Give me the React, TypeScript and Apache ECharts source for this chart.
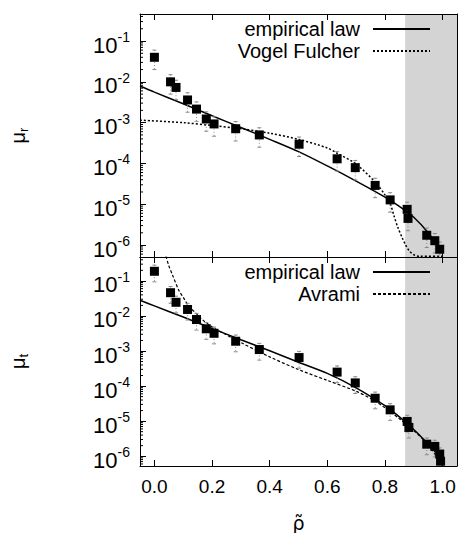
import React, { useEffect, useRef } from "react";
import * as echarts from "echarts";

// ---- measured points: relaxation (top) ----
const rhoR = [0.0, 0.056, 0.075, 0.115, 0.146, 0.18, 0.207, 0.282, 0.364, 0.502, 0.634, 0.697, 0.766, 0.818, 0.877, 0.88, 0.945, 0.973, 0.99];
const muR = [4.0e-2, 1.0e-2, 7.3e-3, 3.6e-3, 2.15e-3, 1.23e-3, 9.3e-4, 7.1e-4, 5.0e-4, 2.96e-4, 1.3e-4, 7.9e-5, 2.9e-5, 1.28e-5, 7.5e-6, 4.5e-6, 1.74e-6, 1.28e-6, 7.9e-7];

// ---- measured points: translation (bottom) ----
const rhoT = [0.0, 0.056, 0.075, 0.115, 0.146, 0.18, 0.207, 0.282, 0.364, 0.502, 0.634, 0.697, 0.766, 0.818, 0.877, 0.883, 0.945, 0.973, 0.99, 0.993];
const muT = [0.188, 0.046, 0.0245, 0.0153, 7.9e-3, 4.3e-3, 3.2e-3, 1.9e-3, 1.1e-3, 6.5e-4, 2.5e-4, 1.23e-4, 4.5e-5, 2.1e-5, 9.8e-6, 6.6e-6, 2.2e-6, 1.9e-6, 1.15e-6, 7.2e-7];

// relative error of the points (±)
const relErr = 0.5;

// ---- fitted curves ----
const empRhoR = [-0.05, 0.0, 0.1, 0.2, 0.3, 0.4, 0.5, 0.6, 0.7, 0.8, 0.85, 0.9, 0.95, 1.0];
const empiricalR = [7.9e-3, 5.6e-3, 2.9e-3, 1.48e-3, 7.6e-4, 3.9e-4, 1.95e-4, 8.7e-5, 3.7e-5, 1.5e-5, 8.9e-6, 4.8e-6, 2.0e-6, 6.6e-7];

const vfRho = [-0.05, 0.1, 0.2, 0.3, 0.4, 0.5, 0.6, 0.634, 0.697, 0.766, 0.8, 0.82, 0.83, 0.844, 0.86, 0.872, 0.885, 0.9, 0.92, 1.0];
const vogelFulcher = [1.15e-3, 1.0e-3, 8.5e-4, 7.1e-4, 5.5e-4, 3.9e-4, 2.4e-4, 1.78e-4, 1.0e-4, 3.5e-5, 1.7e-5, 9.5e-6, 5.6e-6, 2.8e-6, 1.5e-6, 1.0e-6, 7.1e-7, 5.8e-7, 5.3e-7, 5.3e-7];

const empRhoT = [-0.05, 0.0, 0.1, 0.2, 0.3, 0.4, 0.5, 0.6, 0.7, 0.8, 0.85, 0.9, 0.95, 0.98, 1.0];
const empiricalT = [2.8e-2, 1.94e-2, 9.3e-3, 4.4e-3, 2.1e-3, 1.02e-3, 4.8e-4, 2.3e-4, 8.9e-5, 2.75e-5, 1.32e-5, 5.75e-6, 2.2e-6, 1.15e-6, 5.8e-7];

const avRho = [0.035, 0.05, 0.062, 0.085, 0.1, 0.12, 0.14, 0.166, 0.2, 0.25, 0.3, 0.4, 0.5, 0.6, 0.7, 0.76, 0.8, 0.85, 0.9, 0.95, 1.0];
const avrami = [0.7, 0.27, 0.153, 0.053, 0.034, 0.0185, 0.0129, 7.9e-3, 4.9e-3, 2.9e-3, 1.74e-3, 6.8e-4, 2.95e-4, 1.45e-4, 7.1e-5, 4.0e-5, 2.4e-5, 1.17e-5, 5.4e-6, 2.1e-6, 5.5e-7];

// shaded region start
const glassyFrom = 0.87;

// axis ranges
const xMin = -0.05;
const xMax = 1.05;
const yMinR = 5.1e-7;
const yMaxR = 0.46;
const yMinT = 5.25e-7;
const yMaxT = 0.48;
const decades = [-7, -6, -5, -4, -3, -2, -1];
const minorMult = [2, 3, 4, 5, 6, 7, 8, 9];

const FONT = "'Liberation Sans', Arial, Helvetica, sans-serif";

const zip = (xs: number[], ys: number[]) => xs.map((x, i) => [x, ys[i]]);

const powLabel = (v: number) => {
  const e = Math.log10(v);
  const r = Math.round(e);
  if (Math.abs(e - r) > 0.01) return "";
  return `{b|10}{s|${r}}`;
};

const xLabel = (v: number) => {
  const k = v / 0.2;
  if (Math.abs(k - Math.round(k)) > 1e-6) return "";
  return (Math.round(k) * 0.2).toFixed(1);
};

const errorBarItem = (params: any, api: any) => {
  const x = api.value(0);
  const lo = api.value(1);
  const hi = api.value(2);
  const a = api.coord([x, hi]);
  const b = api.coord([x, lo]);
  const st = { stroke: "#8a8a8a", lineWidth: 1 };
  return {
    type: "group",
    children: [
      { type: "line", shape: { x1: a[0], y1: a[1], x2: b[0], y2: b[1] }, style: { ...st, lineDash: [1, 2] } },
      { type: "line", shape: { x1: a[0] - 2, y1: a[1], x2: a[0] + 2, y2: a[1] }, style: st },
      { type: "line", shape: { x1: b[0] - 2, y1: b[1], x2: b[0] + 2, y2: b[1] }, style: st },
    ],
  };
};

const minorTickItem = (params: any, api: any) => {
  const p = api.coord([api.value(0), api.value(1)]);
  return {
    type: "line",
    shape: { x1: p[0], y1: p[1], x2: p[0] + 3, y2: p[1] },
    style: { stroke: "#000", lineWidth: 1 },
  };
};

function buildOption() {
  const minorData = (lo: number, hi: number) => {
    const out: number[][] = [];
    decades.forEach((d) =>
      minorMult.forEach((m) => {
        const v = m * Math.pow(10, d);
        if (v > lo && v < hi) out.push([xMin, v]);
      })
    );
    return out;
  };
  const errData = (xs: number[], ys: number[]) => xs.map((x, i) => [x, ys[i] * (1 - relErr), ys[i] * (1 + relErr)]);

  const xAxis = (gridIndex: number, position: string, labels: boolean, name?: string) => ({
    type: "value",
    gridIndex,
    position,
    min: xMin,
    max: xMax,
    splitNumber: 5,
    z: 10,
    axisLine: { show: true, onZero: false, lineStyle: { color: "#000", width: 1 } },
    axisTick: { show: true, inside: true, length: 6, lineStyle: { color: "#000" } },
    axisLabel: {
      show: labels,
      formatter: xLabel,
      showMinLabel: false,
      showMaxLabel: false,
      margin: 11,
      fontSize: 19,
      fontFamily: FONT,
      color: "#000",
    },
    splitLine: { show: false },
    name: name || "",
    nameLocation: "middle",
    nameGap: 47,
    nameTextStyle: { fontSize: 19, fontFamily: "'DejaVu Sans', sans-serif", color: "#000" },
  });

  const yAxisLeft = (gridIndex: number, min: number, max: number, sub: string) => ({
    type: "log",
    logBase: 10,
    gridIndex,
    position: "left",
    min,
    max,
    z: 10,
    axisLine: { show: true, onZero: false, lineStyle: { color: "#000", width: 1 } },
    axisTick: { show: true, inside: true, length: 6, lineStyle: { color: "#000" } },
    axisLabel: {
      formatter: powLabel,
      showMinLabel: false,
      showMaxLabel: false,
      margin: 10,
      padding: [8, 0, 0, 0],
      rich: {
        b: { fontSize: 22, fontFamily: FONT, color: "#000", lineHeight: 30, verticalAlign: "middle" },
        s: { fontSize: 14, fontFamily: FONT, color: "#000", lineHeight: 15, verticalAlign: "top" },
      },
    },
    splitLine: { show: false },
    name: `{m|μ}{r|${sub}}`,
    nameLocation: "middle",
    nameRotate: 90,
    nameGap: 110,
    nameTextStyle: {
      rich: {
        m: { fontSize: 20, fontFamily: FONT, color: "#000", lineHeight: 24, verticalAlign: "middle" },
        r: { fontSize: 13, fontFamily: FONT, color: "#000", lineHeight: 13, verticalAlign: "bottom" },
      },
    },
  });

  const yAxisRight = (gridIndex: number, min: number, max: number) => ({
    type: "log",
    logBase: 10,
    gridIndex,
    position: "right",
    min,
    max,
    z: 10,
    axisLine: { show: true, onZero: false, lineStyle: { color: "#000", width: 1 } },
    axisTick: { show: false },
    axisLabel: { show: false },
    splitLine: { show: false },
  });

  const band = (xi: number, yi: number) => ({
    type: "line",
    xAxisIndex: xi,
    yAxisIndex: yi,
    data: [],
    silent: true,
    z: 1,
    markArea: {
      silent: true,
      itemStyle: { color: "#d4d4d4", opacity: 1 },
      data: [[{ xAxis: glassyFrom }, { xAxis: xMax }]],
    },
  });

  const curve = (name: string, xi: number, yi: number, xs: number[], ys: number[], type: any, width: number) => ({
    type: "line",
    name,
    xAxisIndex: xi,
    yAxisIndex: yi,
    data: zip(xs, ys),
    symbol: "none",
    smooth: 0.3,
    clip: true,
    z: 3,
    lineStyle: { color: "#000", width, type },
    itemStyle: { color: "#000" },
  });

  const points = (name: string, xi: number, yi: number, xs: number[], ys: number[]) => ({
    type: "scatter",
    name,
    xAxisIndex: xi,
    yAxisIndex: yi,
    data: zip(xs, ys),
    symbol: "rect",
    symbolSize: 9,
    itemStyle: { color: "#000", opacity: 1 },
    z: 5,
  });

  const errors = (xi: number, yi: number, xs: number[], ys: number[]) => ({
    type: "custom",
    xAxisIndex: xi,
    yAxisIndex: yi,
    data: errData(xs, ys),
    encode: { x: 0, y: [1, 2] },
    renderItem: errorBarItem,
    silent: true,
    clip: true,
    z: 4,
  });

  const minors = (xi: number, yi: number, lo: number, hi: number) => ({
    type: "custom",
    xAxisIndex: xi,
    yAxisIndex: yi,
    data: minorData(lo, hi),
    encode: { x: 0, y: 1 },
    renderItem: minorTickItem,
    silent: true,
    z: 6,
  });

  const legendBase = {
    orient: "vertical",
    right: 30,
    align: "right",
    padding: 0,
    itemWidth: 57,
    itemHeight: 14,
    itemGap: 2,
    selectedMode: false,
    itemStyle: { opacity: 0 },
    textStyle: { fontSize: 20, lineHeight: 18, fontFamily: FONT, color: "#000", padding: [0, 8, 0, 0] },
  };

  return {
    animation: false,
    backgroundColor: "#fff",
    grid: [
      { left: 137, top: 14, width: 320, height: 243, show: false },
      { left: 137, top: 257, width: 320, height: 216, show: false },
    ],
    legend: [
      { ...legendBase, top: 19, data: ["empirical law", "Vogel Fulcher"] },
      { ...legendBase, top: 262, data: ["empirical law", "Avrami"] },
    ],
    xAxis: [
      xAxis(0, "bottom", false),
      xAxis(0, "top", false),
      xAxis(1, "bottom", true, "ρ\u0303"),
      xAxis(1, "top", false),
    ],
    yAxis: [
      yAxisLeft(0, yMinR, yMaxR, "r"),
      yAxisRight(0, yMinR, yMaxR),
      yAxisLeft(1, yMinT, yMaxT, "t"),
      yAxisRight(1, yMinT, yMaxT),
    ],
    series: [
      band(0, 0),
      band(2, 2),
      curve("empirical law", 0, 0, empRhoR, empiricalR, "solid", 1.5),
      curve("Vogel Fulcher", 0, 0, vfRho, vogelFulcher, [2, 2], 1.5),
      errors(0, 0, rhoR, muR),
      points("μr", 0, 0, rhoR, muR),
      minors(0, 0, yMinR, yMaxR),
      curve("empirical law", 2, 2, empRhoT, empiricalT, "solid", 1.5),
      curve("Avrami", 2, 2, avRho, avrami, [3, 2], 1.2),
      errors(2, 2, rhoT, muT),
      points("μt", 2, 2, rhoT, muT),
      minors(2, 2, yMinT, yMaxT),
    ],
  };
}

export default function App() {
  const ref = useRef<HTMLDivElement>(null);
  useEffect(() => {
    if (!ref.current) return;
    const chart = echarts.init(ref.current, null, { renderer: "svg" });
    chart.setOption(buildOption() as any);
    return () => chart.dispose();
  }, []);
  return (
    <div
      ref={ref}
      style={{ position: "absolute", left: 0, top: 0, width: 461, height: 533, background: "#fff" }}
    />
  );
}
